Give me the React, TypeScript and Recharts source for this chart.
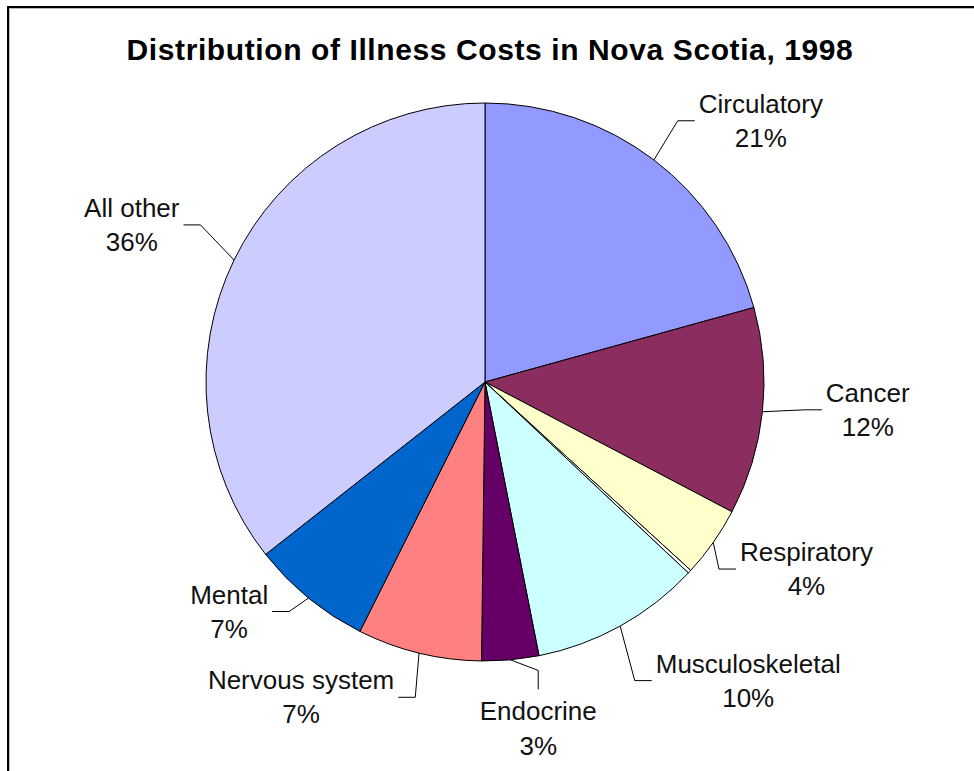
import { PieChart, Pie, Cell } from "recharts";

// Shares of total illness cost, clockwise from 12 o'clock.
// The unnamed sliver between Respiratory and Musculoskeletal carries no label.
const CATEGORIES = [
  "Circulatory", "Cancer", "Respiratory", "", "Musculoskeletal",
  "Endocrine", "Nervous system", "Mental", "All other",
];
const SHARES = [20.7, 12.0, 4.1, 0.2, 9.9, 3.3, 7.2, 7.0, 35.6];

// old Excel palette
const COLORS = [
  "#9299FF", "#8C2D5F", "#FFFFCC", "#FFFFFF", "#CCFFFF",
  "#660066", "#FF8080", "#0066CC", "#CCCCFF",
];

// where each label was dragged to: extra clockwise turn (deg) and distance past the rim
const LABEL_TURN = [1.5, -1.4, 1.6, 0, -0.2, -4.6, 1.7, 3.6, 1.6];
const LABEL_GAP = [56, 59, 34, 0, 63, 33, 48, 34, 61];

const data = CATEGORIES.map((name, i) => ({ name, value: SHARES[i] }));

const RAD = Math.PI / 180;
const FONT_FAMILY = "'Liberation Sans', Arial, sans-serif";
const FONT_SIZE = 26;

let measureCtx: CanvasRenderingContext2D | null = null;
function textWidth(s: string) {
  if (!measureCtx) measureCtx = document.createElement("canvas").getContext("2d");
  if (!measureCtx) return s.length * FONT_SIZE * 0.55;
  measureCtx.font = `${FONT_SIZE}px ${FONT_FAMILY}`;
  return measureCtx.measureText(s).width;
}

function SliceLabel(props: any) {
  const { cx, cy, midAngle, outerRadius, percent, name, index } = props;
  if (!name || percent < 0.01) return null;

  const sx = cx + outerRadius * Math.cos(-midAngle * RAD);
  const sy = cy + outerRadius * Math.sin(-midAngle * RAD);
  const a = midAngle - LABEL_TURN[index];
  const r = outerRadius + LABEL_GAP[index];
  const ax = cx + r * Math.cos(-a * RAD);
  const ay = cy + r * Math.sin(-a * RAD);
  const pct = `${Math.round(percent * 100)}%`;
  const w = Math.max(textWidth(name), textWidth(pct));
  const textProps = {
    fontFamily: FONT_FAMILY, fontSize: FONT_SIZE, fill: "#111", textAnchor: "middle" as const,
  };

  // labels straight below the pie hang from a vertical leader
  if (Math.abs(Math.cos(-a * RAD)) < 0.2) {
    return (
      <g>
        <polyline points={`${sx},${sy} ${ax},${ay - 19} ${ax},${ay}`} stroke="#000" fill="none" />
        <text x={ax} y={ay + 31} {...textProps}>{name}</text>
        <text x={ax} y={ay + 66} {...textProps}>{pct}</text>
      </g>
    );
  }

  const right = ax > cx;
  const ex = right ? ax - 17 : ax + 17;
  const tx = right ? ax + 4 + w / 2 : ax - 4 - w / 2;
  return (
    <g>
      <polyline points={`${sx},${sy} ${ex},${ay} ${ax},${ay}`} stroke="#000" fill="none" />
      <text x={tx} y={ay - 8} {...textProps}>{name}</text>
      <text x={tx} y={ay + 26} {...textProps}>{pct}</text>
    </g>
  );
}

export default function App() {
  return (
    <div style={{ position: "absolute", left: 0, top: 0, width: 974, height: 771, background: "#fff", overflow: "hidden" }}>
      {/* frame, cut off at right and bottom as in the original */}
      <div style={{ position: "absolute", left: 7, top: 6, width: 967, height: 2, background: "#000" }} />
      <div style={{ position: "absolute", left: 9, top: 8, width: 965, height: 1, background: "#bbb" }} />
      <div style={{ position: "absolute", left: 7, top: 6, width: 2, height: 765, background: "#000" }} />
      <div style={{ position: "absolute", left: 9, top: 8, width: 1, height: 763, background: "#bbb" }} />

      <div
        style={{
          position: "absolute", left: 0, top: 35, width: 980, textAlign: "center",
          fontFamily: FONT_FAMILY, fontWeight: "bold", fontSize: 30, lineHeight: "30px",
          letterSpacing: 0.6, color: "#000",
        }}
      >
        Distribution of Illness Costs in Nova Scotia, 1998
      </div>

      <PieChart width={974} height={771} margin={{ top: 0, right: 0, bottom: 0, left: 0 }}>
        <Pie
          data={data}
          dataKey="value"
          nameKey="name"
          cx={485}
          cy={382}
          outerRadius={279}
          startAngle={90}
          endAngle={-270}
          stroke="#000"
          strokeWidth={1}
          label={SliceLabel}
          labelLine={false}
          isAnimationActive={false}
        >
          {data.map((_, i) => <Cell key={i} fill={COLORS[i]} />)}
        </Pie>
      </PieChart>
    </div>
  );
}
